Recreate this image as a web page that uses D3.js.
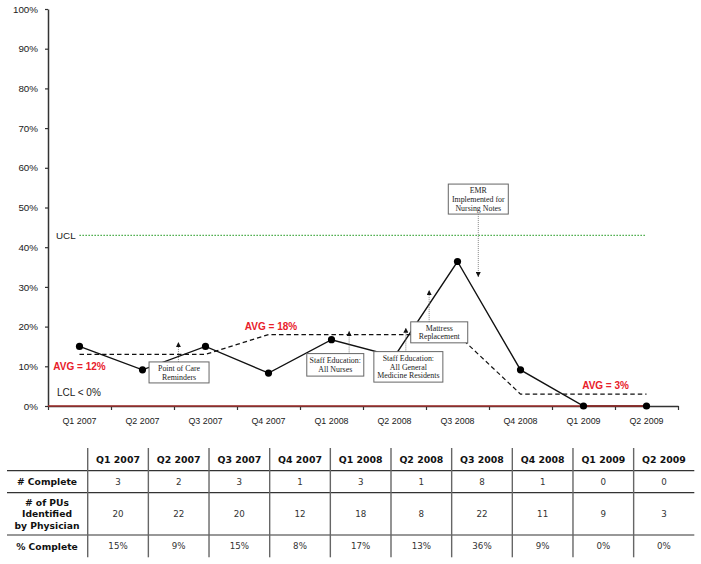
<!DOCTYPE html>
<html>
<head>
<meta charset="utf-8">
<script src="https://cdn.jsdelivr.net/npm/d3@7"></script>
<style>
  body { margin: 0; background: #fff; }
  svg { display: block; }
</style>
</head>
<body>
<div id="chart"></div>
<script>
//quarters shown on the x axis and as table columns
var quarters = ['Q1 2007', 'Q2 2007', 'Q3 2007', 'Q4 2007', 'Q1 2008',
                'Q2 2008', 'Q3 2008', 'Q4 2008', 'Q1 2009', 'Q2 2009'];
var numComplete = [3, 2, 3, 1, 3, 1, 8, 1, 0, 0];
var numIdentified = [20, 22, 20, 12, 18, 8, 22, 11, 9, 3];
var pctLabels = ['15%', '9%', '15%', '8%', '17%', '13%', '36%', '9%', '0%', '0%'];
//plotted % complete
var pctComplete = [15, 9.1, 15, 8.3, 16.7, 12.5, 36.4, 9.1, 0, 0];
//stepped average line (dashed)
var avgLine = [13, 13, 13, 18, 18, 18, 18, 3, 3, 3];
var avgLabels = ['AVG = 12%', 'AVG = 18%', 'AVG = 3%'];
var ucl = 43;
var yTicks = [0, 10, 20, 30, 40, 50, 60, 70, 80, 90, 100];
var rowLabels = [['# Complete'], ['# of PUs', 'Identified', 'by Physician'], ['% Complete']];
var annotationTexts = [
    ['Point of Care', 'Reminders'],
    ['Staff Education:', 'All Nurses'],
    ['Staff Education:', 'All General', 'Medicine Residents'],
    ['Mattress', 'Replacement'],
    ['EMR', 'Implemented for', 'Nursing Notes']
];

var width = 701, height = 564;
var sans = 'Arial, "Liberation Sans", sans-serif';
var verdana = 'Verdana, "DejaVu Sans", sans-serif';
var serif = '"Liberation Serif", "Times New Roman", serif';

var svg = d3.select('#chart')
    .append('svg')
    .attr('width', width)
    .attr('height', height);

var x = d3.scaleBand().domain(quarters).range([48, 678]);
var y = d3.scaleLinear().domain([0, 100]).range([406, 9]);
var bw = x.bandwidth();
//centre of a quarter, and a fractional band position (0 = left edge)
function cx(q){ return x(q) + bw / 2; }
function xAt(p){ return x.range()[0] + p * bw; }

//y axis
var yAxis = svg.append('g')
    .attr('transform', 'translate(48,0)')
    .call(d3.axisLeft(y).tickValues(yTicks).tickFormat(function(d){ return d + '%'; })
        .tickSize(3).tickSizeOuter(0).tickPadding(7));
yAxis.attr('font-family', sans);
yAxis.select('.domain').attr('stroke', '#333').attr('stroke-width', 1.5);
yAxis.selectAll('.tick line').attr('stroke', '#333').attr('stroke-width', 1.2);
yAxis.selectAll('text').attr('font-family', sans).attr('font-size', 9.8).attr('fill', '#1a1a1a');

//x axis, ticks on band edges
var edge = d3.scaleLinear().domain([0, quarters.length]).range(x.range());
var xAxis = svg.append('g')
    .attr('transform', 'translate(0,406)')
    .call(d3.axisBottom(edge).ticks(quarters.length).tickFormat('').tickSize(4).tickSizeOuter(0));
xAxis.select('.domain').attr('stroke', '#333').attr('stroke-width', 1.5);
xAxis.selectAll('.tick line').attr('stroke', '#333').attr('stroke-width', 1.2);
svg.append('g').selectAll('text')
    .data(quarters)
    .enter()
    .append('text')
    .attr('x', function(d){ return cx(d); })
    .attr('y', 424)
    .attr('text-anchor', 'middle')
    .attr('font-family', sans)
    .attr('font-size', 8.9)
    .attr('fill', '#1a1a1a')
    .text(function(d){ return d; });

//UCL
svg.append('line')
    .attr('x1', cx(quarters[0])).attr('x2', cx(quarters[quarters.length - 1]))
    .attr('y1', y(ucl)).attr('y2', y(ucl))
    .attr('stroke', '#2a9d2a').attr('stroke-width', 1.3)
    .attr('stroke-dasharray', '1.3,1.7');
svg.append('text')
    .attr('x', 56).attr('y', y(ucl) + 3.5)
    .attr('font-family', sans).attr('font-size', 9.8).attr('fill', '#1a1a1a')
    .text('UCL');
svg.append('text')
    .attr('x', 57).attr('y', y(3.3) + 3.5)
    .attr('font-family', sans).attr('font-size', 10).attr('fill', '#1a1a1a')
    .text('LCL < 0%');

//average, dashed
svg.append('path')
    .datum(avgLine)
    .attr('fill', 'none')
    .attr('stroke', '#111')
    .attr('stroke-width', 1.2)
    .attr('stroke-dasharray', '4.5,3')
    .attr('d', d3.line()
        .x(function(d, i){ return cx(quarters[i]); })
        .y(function(d){ return y(d); }));

//% complete line
svg.append('path')
    .datum(pctComplete)
    .attr('fill', 'none')
    .attr('stroke', '#111')
    .attr('stroke-width', 1.4)
    .attr('d', d3.line()
        .x(function(d, i){ return cx(quarters[i]); })
        .y(function(d){ return y(d); }));

//red line along 0%
svg.append('line')
    .attr('x1', 48).attr('x2', cx(quarters[quarters.length - 1]))
    .attr('y1', y(0)).attr('y2', y(0))
    .attr('stroke', '#a3302e').attr('stroke-width', 1.3);

svg.append('g').selectAll('circle')
    .data(pctComplete)
    .enter()
    .append('circle')
    .attr('cx', function(d, i){ return cx(quarters[i]); })
    .attr('cy', function(d){ return y(d); })
    .attr('r', 3.6)
    .attr('fill', '#000');

//average labels
var avgPos = [{p: 0.5, v: 10}, {p: 3.54, v: 20.1}, {p: 8.85, v: 5.1}];
svg.append('g').selectAll('text')
    .data(avgLabels)
    .enter()
    .append('text')
    .attr('x', function(d, i){ return xAt(avgPos[i].p); })
    .attr('y', function(d, i){ return y(avgPos[i].v) + 3.6; })
    .attr('text-anchor', 'middle')
    .attr('font-family', sans)
    .attr('font-size', 10)
    .attr('font-weight', 'bold')
    .attr('fill', '#e8202a')
    .text(function(d){ return d; });

//annotation boxes; p = band position of box centre, top = % at box top,
//ap = arrow band position, tip = % at arrow tip
var annLayout = [
    {p: 2.08, top: 11.1, w: 60, h: 21, ap: 2.07, tip: 16.1},
    {p: 4.56, top: 13.2, w: 57, h: 22.5, ap: 4.78, tip: 18.9},
    {p: 5.72, top: 13.7, w: 69, h: 30.5, ap: 5.68, tip: 19.7},
    {p: 6.21, top: 21.2, w: 57, h: 21, ap: 6.05, tip: 29.2},
    {p: 6.83, top: 55.9, w: 60, h: 30, ap: 6.83, tip: 32.5}
];

var defs = svg.append('defs');
defs.append('marker')
    .attr('id', 'head')
    .attr('viewBox', '0 0 10 10')
    .attr('refX', 10).attr('refY', 5)
    .attr('markerWidth', 5).attr('markerHeight', 5)
    .attr('markerUnits', 'userSpaceOnUse')
    .attr('orient', 'auto')
    .append('path')
    .attr('d', 'M0,0L10,5L0,10Z')
    .attr('fill', '#111');

annLayout.forEach(function(a, i){
    var top = y(a.top),
        bx = xAt(a.p) - a.w / 2,
        ax = xAt(a.ap),
        tipY = y(a.tip),
        startY = tipY < top ? top : top + a.h;
    svg.append('line')
        .attr('x1', ax).attr('x2', ax)
        .attr('y1', startY).attr('y2', tipY)
        .attr('stroke', '#777').attr('stroke-width', 0.9)
        .attr('stroke-dasharray', '1,1')
        .attr('marker-end', 'url(#head)');
    svg.append('rect')
        .attr('x', bx).attr('y', top)
        .attr('width', a.w).attr('height', a.h)
        .attr('fill', '#fff')
        .attr('stroke', '#666').attr('stroke-width', 1);
    var lines = annotationTexts[i],
        gap = 8.7,
        y0 = top + a.h / 2 - (lines.length - 1) * gap / 2;
    svg.append('g').selectAll('text')
        .data(lines)
        .enter()
        .append('text')
        .attr('x', bx + a.w / 2)
        .attr('y', function(d, j){ return y0 + j * gap + 2.8; })
        .attr('text-anchor', 'middle')
        .attr('font-family', serif)
        .attr('font-size', 7.9)
        .attr('fill', '#222')
        .text(function(d){ return d; });
});

//data table
var col = d3.scaleBand().domain(quarters).range([87.7, 694.3]);
var rowEdges = [448, 470.7, 492.7, 535, 557.3];
var table = svg.append('g');

table.selectAll('line.h')
    .data(rowEdges.slice(1, 4))
    .enter()
    .append('line')
    .attr('class', 'h')
    .attr('x1', 7).attr('x2', 694.3)
    .attr('y1', function(d){ return d; }).attr('y2', function(d){ return d; })
    .attr('stroke', '#333').attr('stroke-width', 1.2);

table.selectAll('line.v')
    .data(quarters)
    .enter()
    .append('line')
    .attr('class', 'v')
    .attr('x1', function(d){ return col(d); }).attr('x2', function(d){ return col(d); })
    .attr('y1', rowEdges[0]).attr('y2', rowEdges[4])
    .attr('stroke', '#666').attr('stroke-width', 1.4);

table.selectAll('text.head')
    .data(quarters)
    .enter()
    .append('text')
    .attr('class', 'head')
    .attr('x', function(d){ return col(d) + col.bandwidth() / 2; })
    .attr('y', (rowEdges[0] + rowEdges[1]) / 2 + 3.4)
    .attr('text-anchor', 'middle')
    .attr('font-family', verdana)
    .attr('font-size', 9.4)
    .attr('font-weight', 'bold')
    .attr('fill', '#111')
    .text(function(d){ return d; });

rowLabels.forEach(function(lines, r){
    var mid = (rowEdges[r + 1] + rowEdges[r + 2]) / 2,
        gap = 11.5;
    table.append('g').selectAll('text')
        .data(lines)
        .enter()
        .append('text')
        .attr('x', 47)
        .attr('y', function(d, j){ return mid - (lines.length - 1) * gap / 2 + j * gap + 3.4; })
        .attr('text-anchor', 'middle')
        .attr('font-family', verdana)
        .attr('font-size', 9.2)
        .attr('font-weight', 'bold')
        .attr('fill', '#111')
        .text(function(d){ return d; });
});

[numComplete, numIdentified, pctLabels].forEach(function(vals, r){
    var mid = (rowEdges[r + 1] + rowEdges[r + 2]) / 2;
    table.append('g').selectAll('text')
        .data(vals)
        .enter()
        .append('text')
        .attr('x', function(d, i){ return col(quarters[i]) + col.bandwidth() / 2; })
        .attr('y', mid + 3.2)
        .attr('text-anchor', 'middle')
        .attr('font-family', verdana)
        .attr('font-size', 8.7)
        .attr('fill', '#333')
        .text(function(d){ return d; });
});
</script>
</body>
</html>
